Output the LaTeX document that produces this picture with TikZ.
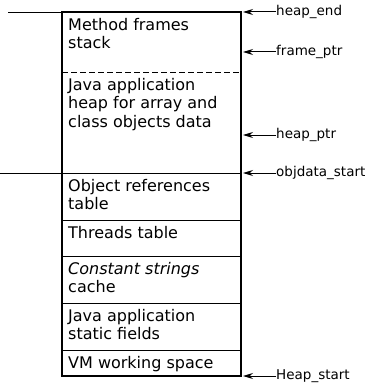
\documentclass[tikz,border=0pt]{standalone}
\usepackage{fontspec}
\setmainfont{DejaVu Sans}
\usetikzlibrary{arrows.meta,positioning}

\begin{document}
\begin{tikzpicture}[x=1pt, y=-1pt,
  region/.style={font=\fontsize{16}{18.5}\selectfont, align=left,
    anchor=north west, inner sep=0pt},
  ptr/.style={font=\fontsize{13.5}{15}\selectfont, anchor=west, inner sep=0pt},
  arrow/.style={-{Stealth[length=10pt,width=6pt]}, line width=1pt},
  wall/.style={line width=1.8pt},
  divider/.style={line width=0.9pt},
  extend/.style={line width=0.7pt},
]
\useasboundingbox (0,0) rectangle (367,385);

% Box edges
\def\xl{62}
\def\xr{241}
\def\xtip{243}
\def\xlbl{276}

% Outline
\coordinate (topL) at (\xl,12);
\coordinate (botR) at (\xr,376);
\draw[wall] (topL) rectangle (botR);

% Dividers (y from top to bottom)
\draw[divider, dash pattern=on 6pt off 3pt] (\xl,72) -- (\xr,72);
\draw[divider] (\xl,173) -- (\xr,173);
\draw[divider] (\xl,220) -- (\xr,220);
\draw[divider] (\xl,256) -- (\xr,256);
\draw[divider] (\xl,303) -- (\xr,303);
\draw[divider] (\xl,350) -- (\xr,350);

% Left extensions
\draw[extend] (8,12) -- (topL);
\draw[extend] (0,173) -- (\xl,173);

% Regions
\node[region] (stack) at (68,18) {Method frames\\stack};
\node[region] (javaheap) at (68,78) {Java application\\heap for array and\\class objects data};
\node[region] (objrefs) at (68,179) {Object references\\table};
\node[region] (threads) at (68,226) {Threads table};
\node[region] (conststr) at (68,262) {\itshape Constant strings\\cache};
\node[region] (statics) at (68,309) {Java application\\static fields};
\node[region] (vmspace) at (68,356) {VM working space};

% Pointers
\coordinate (heapEndTip) at (\xtip,12);
\node[ptr] (heapEnd) at (\xlbl,12) {heap\_end};
\draw[arrow] (heapEnd.west) -- (heapEndTip);

\coordinate (framePtrTip) at (\xtip,52);
\node[ptr] (framePtr) at (\xlbl,52) {frame\_ptr};
\draw[arrow] (framePtr.west) -- (framePtrTip);

\coordinate (heapPtrTip) at (\xtip,135);
\node[ptr] (heapPtr) at (\xlbl,135) {heap\_ptr};
\draw[arrow] (heapPtr.west) -- (heapPtrTip);

\coordinate (objStartTip) at (\xtip,173);
\node[ptr] (objStart) at (\xlbl,173) {objdata\_start};
\draw[arrow] (objStart.west) -- (objStartTip);

\coordinate (heapStartTip) at (\xtip,376);
\node[ptr] (heapStart) at (\xlbl,376) {Heap\_start};
\draw[arrow] (heapStart.west) -- (heapStartTip);

\end{tikzpicture}
\end{document}
